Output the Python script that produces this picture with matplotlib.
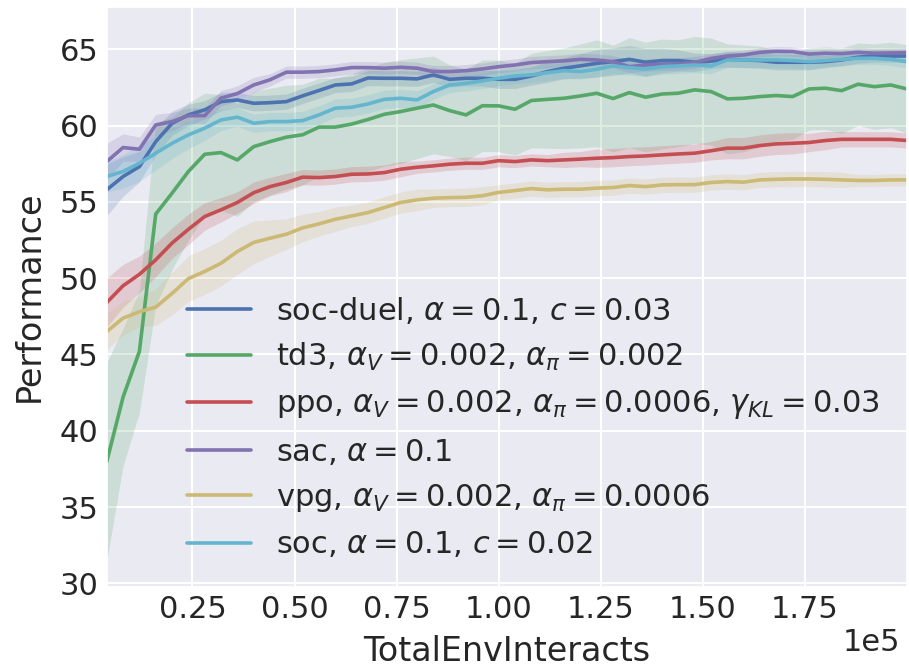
import numpy as np
import seaborn as sns
from matplotlib import pyplot as plt

# 50 epochs of 4000 env steps each
steps = np.arange(1, 51) * 4000

soc_duel = [55.79, 56.66, 57.31, 58.95, 60.15, 60.7, 61.03, 61.57, 61.68, 61.46, 61.5, 61.57, 61.95,
            62.3, 62.66, 62.73, 63.12, 63.1, 63.1, 63.06, 63.32, 63.03, 63.1, 63.1, 63.03,
            63.03, 63.25, 63.54, 63.76, 63.91, 64.08, 64.19, 64.34, 64.15, 64.26, 64.26, 64.15, 64.22,
            64.34, 64.3, 64.26, 64.15, 64.15, 64.15, 64.19, 64.3, 64.48, 64.56, 64.56, 64.56]
td3 = [37.97, 42.2, 45.2, 54.2, 55.57, 56.99, 58.12, 58.23, 57.75, 58.62, 58.95, 59.24, 59.4,
       59.9, 59.9, 60.1, 60.4, 60.74, 60.92, 61.14, 61.35, 60.98, 60.7, 61.3, 61.29,
       61.07, 61.64, 61.72, 61.79, 61.94, 62.12, 61.77, 62.16, 61.86, 62.07, 62.12, 62.34, 62.23,
       61.75, 61.79, 61.9, 61.97, 61.9, 62.4, 62.45, 62.29, 62.71, 62.55, 62.66, 62.4]
ppo = [48.4, 49.5, 50.25, 51.2, 52.3, 53.2, 54.04, 54.48, 54.96, 55.6, 56.0, 56.27, 56.62,
       56.59, 56.66, 56.81, 56.83, 56.92, 57.14, 57.27, 57.36, 57.47, 57.53, 57.53, 57.7,
       57.64, 57.75, 57.7, 57.75, 57.8, 57.86, 57.9, 57.97, 58.01, 58.08, 58.14, 58.19, 58.35,
       58.52, 58.52, 58.69, 58.8, 58.84, 58.89, 59.02, 59.1, 59.1, 59.1, 59.1, 59.02]
sac = [57.64, 58.56, 58.45, 60.04, 60.26, 60.65, 60.65, 61.8, 62.1, 62.66, 63.0, 63.5, 63.5,
       63.54, 63.65, 63.8, 63.8, 63.76, 63.82, 63.76, 63.54, 63.54, 63.6, 63.71, 63.86,
       63.97, 64.13, 64.19, 64.24, 64.34, 64.3, 64.19, 63.86, 63.97, 64.02, 64.04, 64.13, 64.4,
       64.56, 64.63, 64.8, 64.87, 64.85, 64.69, 64.74, 64.72, 64.8, 64.74, 64.76, 64.78]
vpg = [46.5, 47.38, 47.8, 48.1, 49.0, 49.97, 50.44, 50.98, 51.75, 52.34, 52.62, 52.88, 53.3,
       53.56, 53.86, 54.08, 54.3, 54.63, 54.96, 55.13, 55.24, 55.28, 55.3, 55.4, 55.62,
       55.74, 55.87, 55.79, 55.83, 55.83, 55.9, 55.94, 56.07, 56.0, 56.11, 56.13, 56.13, 56.27,
       56.33, 56.29, 56.44, 56.48, 56.5, 56.5, 56.48, 56.44, 56.4, 56.4, 56.44, 56.44]
soc = [56.66, 56.99, 57.53, 58.19, 58.84, 59.39, 59.83, 60.37, 60.55, 60.15, 60.26, 60.26, 60.33,
       60.7, 61.14, 61.2, 61.42, 61.72, 61.79, 61.68, 62.23, 62.66, 62.77, 62.93, 63.1,
       63.25, 63.32, 63.47, 63.6, 63.54, 63.69, 63.91, 63.8, 63.71, 63.86, 63.91, 63.97, 63.9,
       64.3, 64.3, 64.3, 64.3, 64.26, 64.19, 64.26, 64.34, 64.41, 64.41, 64.34, 64.19]

# spread of the shaded bands (std over seeds)
soc_duel_sd = [1.7, 1.3, 1.0, 0.9, 0.8, 0.7, 0.6, 0.6, 0.5, 0.5, 0.5, 0.5, 0.5,
               0.5, 0.5, 0.5, 0.5, 0.5, 0.5, 0.5, 0.5, 0.5, 0.5, 0.5, 0.6,
               0.6, 0.6, 0.7, 0.7, 0.8, 0.9, 0.9, 0.9, 0.9, 0.8, 0.7, 0.6, 0.5,
               0.5, 0.5, 0.5, 0.5, 0.5, 0.5, 0.4, 0.4, 0.4, 0.4, 0.4, 0.4]
td3_sd = [6.5, 4.5, 4.0, 6.0, 5.0, 4.5, 4.0, 3.8, 3.7, 3.6, 3.5, 3.4, 3.3,
          3.2, 3.2, 3.3, 3.4, 3.4, 3.4, 3.3, 3.2, 3.0, 3.0, 3.0, 3.0,
          3.0, 3.1, 3.2, 3.3, 3.4, 3.5, 3.5, 3.6, 3.6, 3.6, 3.5, 3.5, 3.5,
          3.6, 3.5, 3.3, 3.0, 2.8, 2.7, 2.7, 2.8, 2.7, 2.8, 2.8, 2.9]
ppo_sd = [1.6, 1.4, 1.2, 1.1, 1.0, 1.0, 0.9, 0.8, 0.7, 0.7, 0.6, 0.6, 0.5,
          0.5, 0.5, 0.5, 0.5, 0.5, 0.5, 0.4, 0.4, 0.4, 0.4, 0.4, 0.4,
          0.4, 0.4, 0.4, 0.5, 0.5, 0.6, 0.6, 0.6, 0.6, 0.6, 0.6, 0.6, 0.6,
          0.7, 0.7, 0.7, 0.7, 0.7, 0.6, 0.6, 0.5, 0.5, 0.5, 0.5, 0.5]
sac_sd = [1.2, 0.9, 0.8, 0.7, 0.6, 0.5, 0.5, 0.5, 0.5, 0.5, 0.4, 0.4, 0.4,
          0.4, 0.4, 0.4, 0.4, 0.4, 0.4, 0.4, 0.4, 0.4, 0.4, 0.4, 0.4,
          0.4, 0.4, 0.4, 0.4, 0.4, 0.4, 0.4, 0.4, 0.4, 0.4, 0.4, 0.4, 0.3,
          0.3, 0.3, 0.3, 0.3, 0.3, 0.3, 0.3, 0.3, 0.3, 0.3, 0.3, 0.3]
vpg_sd = [1.2, 1.1, 1.0, 1.2, 1.4, 1.5, 1.5, 1.5, 1.5, 1.4, 1.2, 1.0, 0.9,
          0.8, 0.8, 0.7, 0.7, 0.7, 0.7, 0.7, 0.6, 0.6, 0.6, 0.6, 0.5,
          0.5, 0.5, 0.5, 0.5, 0.5, 0.5, 0.5, 0.5, 0.5, 0.5, 0.5, 0.5, 0.5,
          0.5, 0.5, 0.5, 0.5, 0.5, 0.5, 0.5, 0.5, 0.4, 0.4, 0.4, 0.4]
soc_sd = [1.0, 1.1, 1.2, 1.1, 1.0, 0.9, 0.8, 0.7, 0.6, 0.6, 0.6, 0.6, 0.6,
          0.6, 0.6, 0.6, 0.6, 0.6, 0.6, 0.6, 0.5, 0.5, 0.5, 0.5, 0.5,
          0.5, 0.5, 0.5, 0.5, 0.5, 0.5, 0.5, 0.5, 0.5, 0.5, 0.5, 0.5, 0.5,
          0.5, 0.5, 0.5, 0.5, 0.5, 0.5, 0.4, 0.4, 0.4, 0.4, 0.4, 0.4]

labels = [r'soc-duel, $\alpha = 0.1$, $c = 0.03$',
          r'td3, $\alpha_V = 0.002$, $\alpha_\pi = 0.002$',
          r'ppo, $\alpha_V = 0.002$, $\alpha_\pi = 0.0006$, $\gamma_{KL} = 0.03$',
          r'sac, $\alpha = 0.1$',
          r'vpg, $\alpha_V = 0.002$, $\alpha_\pi = 0.0006$',
          r'soc, $\alpha = 0.1$, $c = 0.02$']
colors = ['#4C72B0', '#55A868', '#C44E52', '#8172B2', '#CCB974', '#64B5CD']
xticks = [25000, 50000, 75000, 100000, 125000, 150000, 175000]

sns.set_theme(style="darkgrid")
plt.rcParams['font.family'] = ['DejaVu Sans']

fig, ax = plt.subplots(figsize=(9.09, 6.70), dpi=100)
fig.subplots_adjust(left=0.1174, right=0.9978, top=0.990, bottom=0.1243)

runs = [soc_duel, td3, ppo, sac, vpg, soc]
spreads = [soc_duel_sd, td3_sd, ppo_sd, sac_sd, vpg_sd, soc_sd]
for mean, sd, lab, col in zip(runs, spreads, labels, colors):
    mean = np.array(mean)
    sd = np.array(sd)
    ax.fill_between(steps, mean - sd, mean + sd, color=col, alpha=0.2, lw=0)
    ax.plot(steps, mean, color=col, lw=2.6, label=lab)

ax.set_xlim(4000, 200000)
ax.set_ylim(29.78, 67.79)
ax.set_xticks(xticks)
ax.set_yticks(range(30, 66, 5))
ax.grid(color='white', linewidth=1.5)
ax.ticklabel_format(style='sci', axis='x', scilimits=(0, 0))
ax.tick_params(labelsize=22, colors='#262626', length=0, pad=6)
off = ax.xaxis.get_offset_text()
off.set_fontsize(22)
off.set_x(0.991)
ax.set_xlabel("TotalEnvInteracts", fontsize=24, color='#262626', labelpad=8)
ax.set_ylabel("Performance", fontsize=24, color='#262626', labelpad=10)

ax.legend(loc='lower right', frameon=False, fontsize=22, handlelength=2.1)

fig.savefig("out.png", dpi=100)
